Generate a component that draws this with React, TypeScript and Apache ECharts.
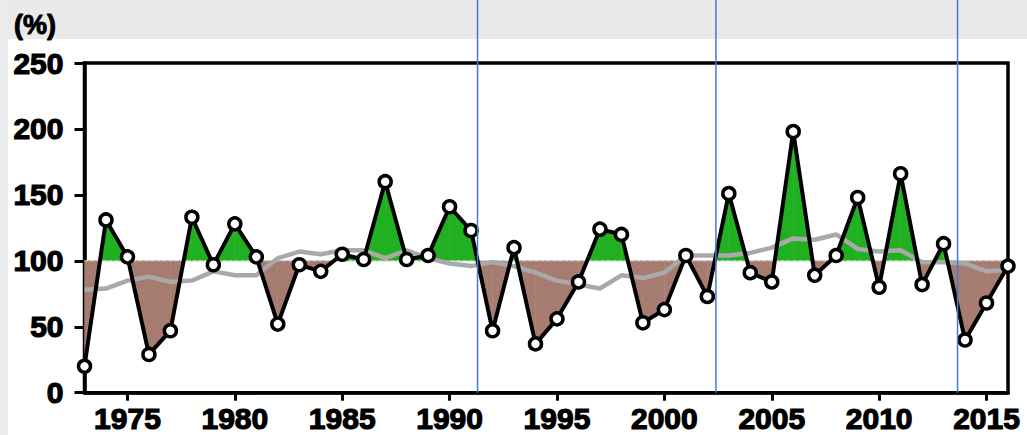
import React, { useEffect, useRef } from "react";
import * as echarts from "echarts";

// Annual values (%) from 1973 to 2016
const years = [
  1973, 1974, 1975, 1976, 1977, 1978, 1979, 1980, 1981, 1982, 1983,
  1984, 1985, 1986, 1987, 1988, 1989, 1990, 1991, 1992, 1993, 1994,
  1995, 1996, 1997, 1998, 1999, 2000, 2001, 2002, 2003, 2004, 2005,
  2006, 2007, 2008, 2009, 2010, 2011, 2012, 2013, 2014, 2015, 2016,
];

const annualValues = [
  20, 131, 103, 29, 47, 133, 97, 128, 103, 52, 97,
  92, 105, 101, 160, 101, 104, 141, 123, 47, 110, 37,
  56, 84, 124, 120, 53, 63, 104, 73, 151, 91, 84,
  198, 89, 104, 148, 80, 166, 82, 113, 40, 68, 96,
];

const smoothedValues = [
  78, 79, 85, 88, 84, 85, 92, 89, 89, 102, 107,
  105, 108, 108, 102, 108, 102, 98, 96, 99, 96, 91,
  85, 82, 79, 89, 87, 91, 104, 104, 104, 106, 110,
  117, 116, 120, 109, 107, 108, 99, 99, 98, 92, 93,
];

const labelStep = 5;
const dividerYears = [1991.3, 2002.4, 2013.65];
const normalLevel = 100;

const ABOVE = "#21b021";
const BELOW = "#a67c71";
const FONT = "'Liberation Sans', Arial, Helvetica, sans-serif";

export default function App() {
  const ref = useRef<HTMLDivElement>(null);

  useEffect(() => {
    if (!ref.current) return;
    const chart = echarts.init(ref.current, null, { renderer: "svg" });

    const axisText = {
      fontSize: 30,
      fontWeight: "bold" as const,
      color: "#000",
      fontFamily: FONT,
      textBorderColor: "#000",
      textBorderWidth: 1.2,
    };
    const everyFifth = (_i: number, v: string) => Number(v) % labelStep === 0;

    // Shade each segment between the annual line and the 100% level,
    // splitting it where the line crosses that level.
    const renderShade = (params: any, api: any) => {
      const i = params.dataIndex;
      if (i >= annualValues.length - 1) return null;
      const v0 = annualValues[i];
      const v1 = annualValues[i + 1];
      const p0 = api.coord([i, v0]);
      const p1 = api.coord([i + 1, v1]);
      const b0 = api.coord([i, normalLevel]);
      const b1 = api.coord([i + 1, normalLevel]);
      const poly = (points: number[][], fill: string) => ({
        type: "polygon",
        shape: { points },
        style: { fill, stroke: fill, lineWidth: 0.5 },
      });
      const children: any[] = [];
      if ((v0 - normalLevel) * (v1 - normalLevel) < 0) {
        const t = (normalLevel - v0) / (v1 - v0);
        const c = [p0[0] + t * (p1[0] - p0[0]), b0[1]];
        children.push(poly([b0, p0, c], v0 > normalLevel ? ABOVE : BELOW));
        children.push(poly([c, p1, b1], v1 > normalLevel ? ABOVE : BELOW));
      } else {
        const up = v0 + v1 >= 2 * normalLevel;
        children.push(poly([b0, p0, p1, b1], up ? ABOVE : BELOW));
      }
      return { type: "group", children };
    };

    chart.setOption({
      animation: false,
      backgroundColor: "#ffffff",
      grid: {
        left: 84.5,
        right: 19,
        top: 63,
        bottom: 42.3,
        show: true,
        borderColor: "#000",
        borderWidth: 3.5,
        backgroundColor: "transparent",
      },
      xAxis: {
        type: "category",
        data: years.map(String),
        boundaryGap: false,
        axisLine: { show: true, lineStyle: { color: "#000", width: 3.5 } },
        axisTick: {
          show: true,
          interval: everyFifth,
          length: 8,
          lineStyle: { color: "#000", width: 3 },
        },
        axisLabel: { ...axisText, interval: everyFifth, margin: 11 },
        splitLine: { show: false },
      },
      yAxis: {
        type: "value",
        min: 0,
        max: 250,
        interval: 50,
        axisLine: { show: true, lineStyle: { color: "#000", width: 3.5 } },
        axisTick: { show: true, length: 10, lineStyle: { color: "#000", width: 3 } },
        axisLabel: { ...axisText, margin: 21 },
        splitLine: { show: false },
      },
      series: [
        {
          name: "shade",
          type: "custom",
          renderItem: renderShade,
          data: annualValues.map((v, i) => [i, v]),
          encode: { x: 0, y: 1 },
          silent: true,
          z: 1,
        },
        {
          name: "normal",
          type: "line",
          data: years.map(() => normalLevel),
          symbol: "none",
          silent: true,
          lineStyle: { color: "#dcdcdc", type: "dashed", width: 1 },
          z: 1.5,
        },
        {
          name: "smoothed",
          type: "line",
          data: smoothedValues,
          symbol: "none",
          lineStyle: { color: "#a9a9a9", width: 4.5 },
          z: 2,
        },
        {
          name: "annual",
          type: "line",
          data: annualValues,
          symbol: "circle",
          symbolSize: 12,
          itemStyle: { color: "#ffffff", borderColor: "#000", borderWidth: 3.5 },
          lineStyle: { color: "#000", width: 4 },
          z: 3,
        },
      ],
    });

    const axisBottom = chart.convertToPixel({ yAxisIndex: 0 }, 0) as number;
    const xAt = (yr: number) => {
      const k = yr - years[0];
      const lo = Math.floor(k);
      const a = chart.convertToPixel({ xAxisIndex: 0 }, lo) as number;
      const b = chart.convertToPixel({ xAxisIndex: 0 }, lo + 1) as number;
      return a + (k - lo) * (b - a);
    };
    const dividers = dividerYears.map((yr, i) => {
      const x = xAt(yr);
      return {
        type: "line",
        id: "divider" + i,
        z: 100,
        silent: true,
        shape: { x1: x, y1: 0, x2: x, y2: axisBottom },
        style: { stroke: "#3f7dc8", lineWidth: 1.5 },
      };
    });

    chart.setOption({
      graphic: [
        {
          type: "rect",
          id: "topBand",
          z: -10,
          silent: true,
          shape: { x: 0, y: 0, width: 1027, height: 39 },
          style: { fill: "#eaeaea" },
        },
        {
          type: "rect",
          id: "leftBand",
          z: -10,
          silent: true,
          shape: { x: 0, y: 0, width: 8, height: 435 },
          style: { fill: "#ececec" },
        },
        {
          type: "text",
          id: "unit",
          z: 50,
          x: 14,
          y: 25,
          style: {
            text: "(%)",
            fill: "#000",
            font: `bold 27px ${FONT}`,
            stroke: "#000",
            lineWidth: 1,
            verticalAlign: "middle",
          },
        },
        ...dividers,
      ],
    });

    return () => chart.dispose();
  }, []);

  return (
    <div
      ref={ref}
      style={{ position: "fixed", left: 0, top: 0, width: 1027, height: 435 }}
    />
  );
}
